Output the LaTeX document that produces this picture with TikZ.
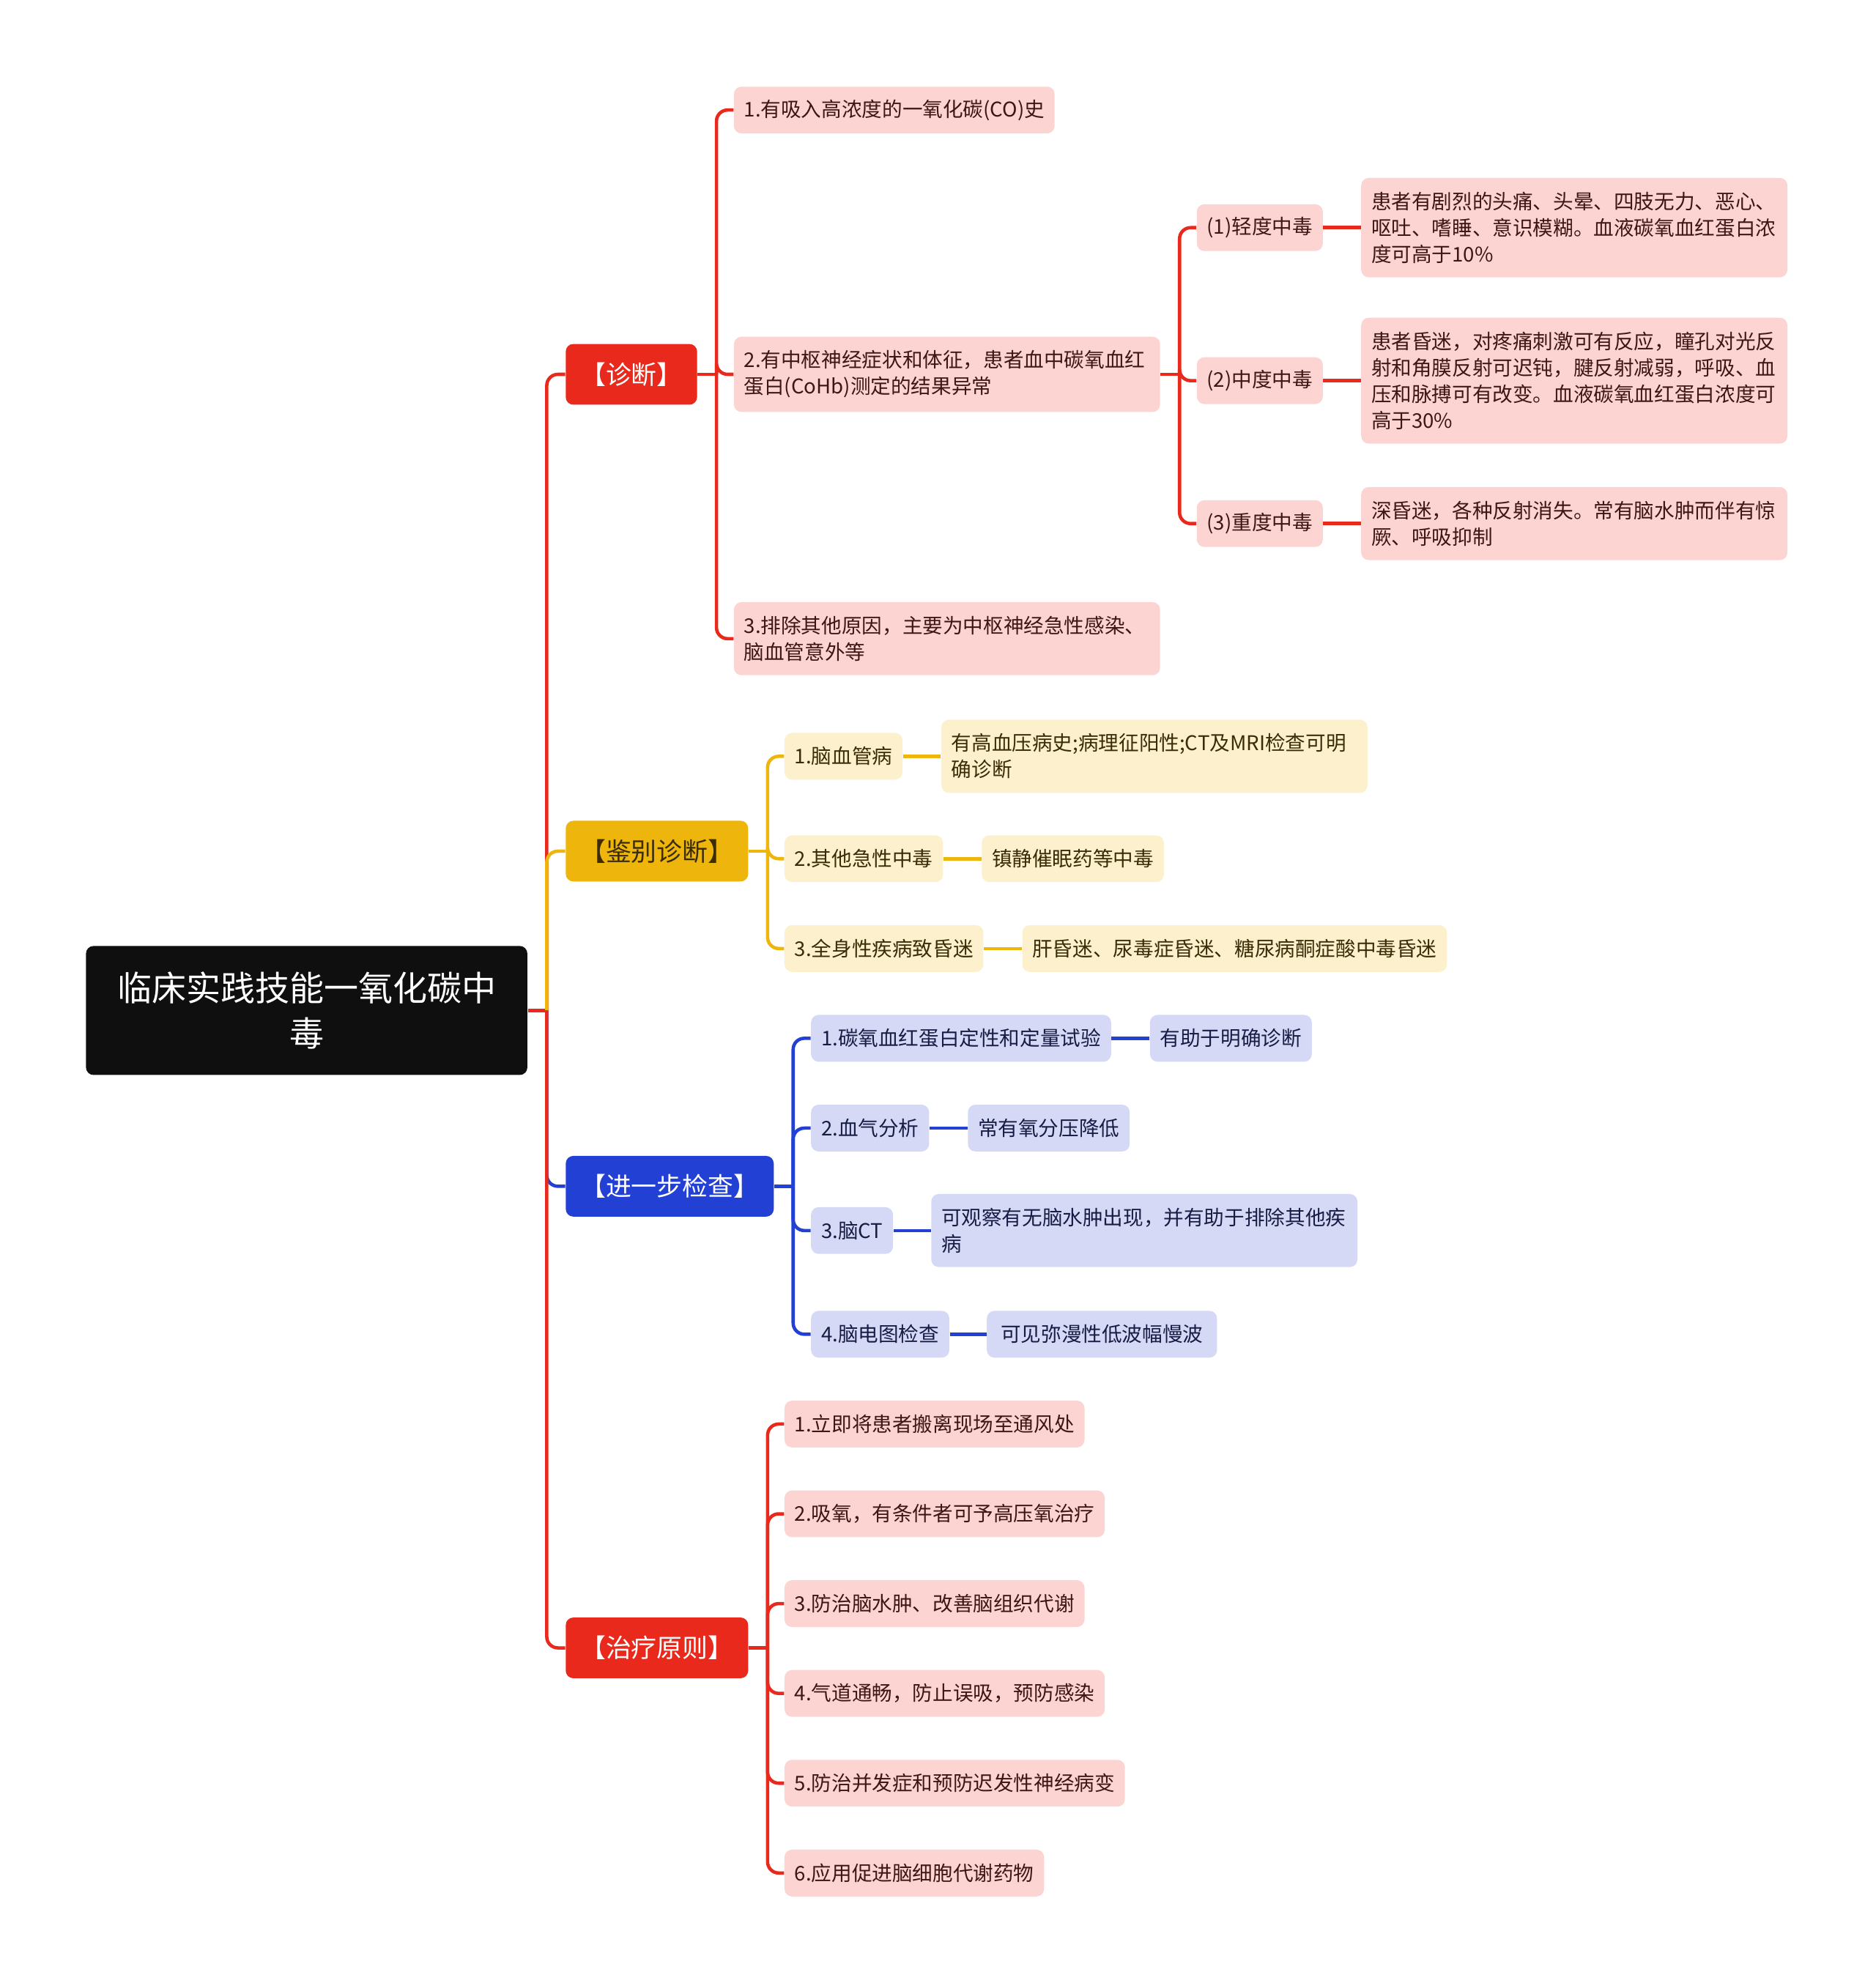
\documentclass[tikz,border=0pt]{standalone}
\usepackage{fontspec}
\setmainfont{Noto Sans CJK SC}
\usepackage{tikz}
\definecolor{zred}{HTML}{E8291C}
\definecolor{zpink}{HTML}{FCD5D2}
\definecolor{zpinktxt}{HTML}{3E1714}
\definecolor{zyel}{HTML}{EEB50C}
\definecolor{zlyel}{HTML}{FDF0CD}
\definecolor{zyeltxt}{HTML}{3A2C05}
\definecolor{zblue}{HTML}{2340D5}
\definecolor{zlblue}{HTML}{D5D9F6}
\definecolor{zbluetxt}{HTML}{171C45}
\definecolor{zroot}{HTML}{0F0F0F}
\def\width{1483}
\def\hauteur{1568}

\tikzset{
	item/.style={anchor=west, rounded corners=3.4pt, inner xsep=0.16cm, inner ysep=0.12cm, minimum height=0.74cm, align=left, font=\fontsize{9.1}{11.9}\selectfont},
	wide/.style={text width=6.42cm, inner ysep=0.22cm},
	pinkitem/.style={item, fill=zpink, text=zpinktxt},
	yelitem/.style={item, fill=zlyel, text=zyeltxt},
	blueitem/.style={item, fill=zlblue, text=zbluetxt},
	branch/.style={anchor=west, rounded corners=3.4pt, inner xsep=0.23cm, minimum height=0.96cm, font=\fontsize{11.5}{13}\selectfont},
	link/.style={line width=1.5pt, rounded corners=5pt},
}

\begin{document}
\begin{tikzpicture}[x=0.2mm, y=-0.2mm]
	\useasboundingbox (0,0) rectangle (\width,\hauteur);
	%\draw[step=100, black!20!white] (0,0) grid (\width,\hauteur);

	\node[fill=zroot, text=white, rounded corners=3.4pt, minimum width=6.98cm, minimum height=2.04cm, align=center, font=\fontsize{15.5}{20.5}\selectfont] (root) at (242.5,799) {临床实践技能一氧化碳中\\毒};

	% level one
	\node[branch, fill=zred, text=white] (zd) at (447,296) {【诊断】};
	\node[branch, fill=zyel, text=zyeltxt] (jb) at (447,673) {【鉴别诊断】};
	\node[branch, fill=zblue, text=white] (jc) at (447,938) {【进一步检查】};
	\node[branch, fill=zred, text=white] (zl) at (447,1303) {【治疗原则】};

	% 诊断
	\node[pinkitem] (zd1) at (580,87) {1.有吸入高浓度的一氧化碳(CO)史};
	\node[pinkitem, wide] (zd2) at (580,296) {2.有中枢神经症状和体征，患者血中碳氧血红\\蛋白(CoHb)测定的结果异常};
	\node[pinkitem, wide] (zd3) at (580,505) {3.排除其他原因，主要为中枢神经急性感染、\\脑血管意外等};
	\node[pinkitem] (qd) at (946,180) {(1)轻度中毒};
	\node[pinkitem] (zhd) at (946,301) {(2)中度中毒};
	\node[pinkitem] (cd) at (946,414) {(3)重度中毒};
	\node[pinkitem, wide] (qdx) at (1076,180) {患者有剧烈的头痛、头晕、四肢无力、恶心、\\呕吐、嗜睡、意识模糊。血液碳氧血红蛋白浓\\度可高于10\%};
	\node[pinkitem, wide] (zhdx) at (1076,301) {患者昏迷，对疼痛刺激可有反应，瞳孔对光反\\射和角膜反射可迟钝，腱反射减弱，呼吸、血\\压和脉搏可有改变。血液碳氧血红蛋白浓度可\\高于30\%};
	\node[pinkitem, wide] (cdx) at (1076,414) {深昏迷，各种反射消失。常有脑水肿而伴有惊\\厥、呼吸抑制};

	% 鉴别诊断
	\node[yelitem] (jb1) at (620,598) {1.脑血管病};
	\node[yelitem] (jb2) at (620,679) {2.其他急性中毒};
	\node[yelitem] (jb3) at (620,750) {3.全身性疾病致昏迷};
	\node[yelitem, wide] (jb1x) at (744,598) {有高血压病史;病理征阳性;CT及MRI检查可明\\确诊断};
	\node[yelitem] (jb2x) at (776,679) {镇静催眠药等中毒};
	\node[yelitem] (jb3x) at (808,750) {肝昏迷、尿毒症昏迷、糖尿病酮症酸中毒昏迷};

	% 进一步检查
	\node[blueitem] (jc1) at (641,821) {1.碳氧血红蛋白定性和定量试验};
	\node[blueitem] (jc2) at (641,892) {2.血气分析};
	\node[blueitem] (jc3) at (641,973) {3.脑CT};
	\node[blueitem] (jc4) at (641,1055) {4.脑电图检查};
	\node[blueitem] (jc1x) at (909,821) {有助于明确诊断};
	\node[blueitem] (jc2x) at (765,892) {常有氧分压降低};
	\node[blueitem, wide] (jc3x) at (736,973) {可观察有无脑水肿出现，并有助于排除其他疾\\病};
	\node[blueitem, minimum width=3.64cm] (jc4x) at (780,1055) {可见弥漫性低波幅慢波};

	% 治疗原则
	\node[pinkitem] (zl1) at (620,1126) {1.立即将患者搬离现场至通风处};
	\node[pinkitem] (zl2) at (620,1197) {2.吸氧，有条件者可予高压氧治疗};
	\node[pinkitem] (zl3) at (620,1268) {3.防治脑水肿、改善脑组织代谢};
	\node[pinkitem] (zl4) at (620,1339) {4.气道通畅，防止误吸，预防感染};
	\node[pinkitem] (zl5) at (620,1410) {5.防治并发症和预防迟发性神经病变};
	\node[pinkitem] (zl6) at (620,1481) {6.应用促进脑细胞代谢药物};

	% connectors
	\coordinate (rootj) at ([xshift=0.3cm]root.east);
	\draw[link, zred] (root.east) -- (rootj);
	\draw[link, zred] (rootj) |- (zd.west);
	\draw[link, zyel] (rootj) |- (jb.west);
	\draw[link, zblue] (rootj) |- (jc.west);
	\draw[link, zred] (rootj) |- (zl.west);

	\coordinate (zdj) at ([xshift=0.3cm]zd.east);
	\draw[link, zred] (zd.east) -- (zdj);
	\foreach \c in {zd1,zd2,zd3} \draw[link, zred] (zdj) |- (\c.west);
	\coordinate (zd2j) at ([xshift=0.3cm]zd2.east);
	\draw[link, zred] (zd2.east) -- (zd2j);
	\foreach \c in {qd,zhd,cd} \draw[link, zred] (zd2j) |- (\c.west);
	\draw[link, zred] (qd.east) -- (qdx.west);
	\draw[link, zred] (zhd.east) -- (zhdx.west);
	\draw[link, zred] (cd.east) -- (cdx.west);

	\coordinate (jbj) at ([xshift=0.3cm]jb.east);
	\draw[link, zyel] (jb.east) -- (jbj);
	\foreach \c in {jb1,jb2,jb3} {
		\draw[link, zyel] (jbj) |- (\c.west);
		\draw[link, zyel] (\c.east) -- (\c x.west);
	}

	\coordinate (jcj) at ([xshift=0.3cm]jc.east);
	\draw[link, zblue] (jc.east) -- (jcj);
	\foreach \c in {jc1,jc2,jc3,jc4} {
		\draw[link, zblue] (jcj) |- (\c.west);
		\draw[link, zblue] (\c.east) -- (\c x.west);
	}

	\coordinate (zlj) at ([xshift=0.3cm]zl.east);
	\draw[link, zred] (zl.east) -- (zlj);
	\foreach \c in {zl1,zl2,zl3,zl4,zl5,zl6} \draw[link, zred] (zlj) |- (\c.west);
\end{tikzpicture}
\end{document}
